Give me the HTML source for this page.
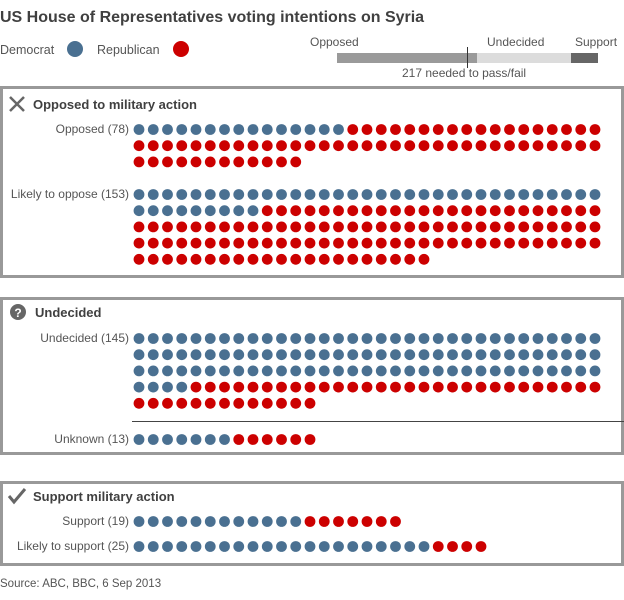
<!DOCTYPE html>
<html><head><meta charset="utf-8"><style>
body{margin:0;background:#fff;width:624px;height:600px;overflow:hidden}
svg{display:block;font-family:"Liberation Sans",sans-serif}
</style></head><body>
<svg id="s" width="624" height="600" xmlns="http://www.w3.org/2000/svg">
<text x="0" y="22" font-size="16" font-weight="bold" fill="#404040">US House of Representatives voting intentions on Syria</text>
<text x="0" y="54" font-size="12.5" fill="#555">Democrat</text>
<circle cx="75" cy="49" r="8" fill="#4a7091"/>
<text x="97" y="54" font-size="12.5" fill="#555">Republican</text>
<circle cx="181" cy="49" r="8" fill="#cc0000"/>
<text x="310" y="46" font-size="12" fill="#555">Opposed</text>
<text x="487" y="46" font-size="12" fill="#555">Undecided</text>
<text x="575" y="46" font-size="12" fill="#555">Support</text>
<rect x="337" y="53" width="140" height="10" fill="#9a9a9a"/>
<rect x="477" y="53" width="94" height="10" fill="#dcdcdc"/>
<rect x="571" y="53" width="27" height="10" fill="#666"/>
<line x1="467.5" y1="47" x2="467.5" y2="68" stroke="#333" stroke-width="1"/>
<text x="402" y="77" font-size="12" fill="#555">217 needed to pass/fail</text>

<rect x="1.5" y="87.5" width="621" height="189" fill="none" stroke="#999" stroke-width="3"/>
<rect x="1.5" y="298.5" width="621" height="155" fill="none" stroke="#999" stroke-width="3"/>
<rect x="1.5" y="482.5" width="621" height="82" fill="none" stroke="#999" stroke-width="3"/>

<path d="M10 97 L24 111 M24 97 L10 111" stroke="#666" stroke-width="2.5"/>
<text x="33" y="109" font-size="13" font-weight="bold" fill="#404040">Opposed to military action</text>
<circle cx="18" cy="312" r="8" fill="#666"/>
<text x="18" y="317" font-size="12" font-weight="bold" fill="#fff" text-anchor="middle">?</text>
<text x="35" y="317" font-size="13" font-weight="bold" fill="#404040">Undecided</text>
<path d="M9 496 L14 502 L25 489" stroke="#666" stroke-width="3" fill="none"/>
<text x="33" y="501" font-size="13" font-weight="bold" fill="#404040">Support military action</text>

<g font-size="12" fill="#555" text-anchor="end">
<text x="129" y="133">Opposed (78)</text>
<text x="129" y="198">Likely to oppose (153)</text>
<text x="129" y="342">Undecided (145)</text>
<text x="129" y="443">Unknown (13)</text>
<text x="129" y="525">Support (19)</text>
<text x="129" y="550">Likely to support (25)</text>
</g>
<line x1="132" y1="421.5" x2="624" y2="421.5" stroke="#444" stroke-width="1"/>
<text x="0" y="587" font-size="11.5" fill="#555">Source: ABC, BBC, 6 Sep 2013</text>
<g id="d"></g>
</svg>
<script>
var g=document.getElementById('d'),ns="http://www.w3.org/2000/svg";
function grp(y0,blue,total){
 for(var i=0;i<total;i++){
  var r=Math.floor(i/33),c=i%33;
  var e=document.createElementNS(ns,'circle');
  e.setAttribute('cx',139+c*14.25);e.setAttribute('cy',y0+r*16.2);
  e.setAttribute('r',5.4);e.setAttribute('fill',i<blue?'#4a7091':'#cc0000');
  g.appendChild(e);
 }
}
grp(129.5,15,78);grp(194.5,42,153);grp(338.5,103,145);grp(439.5,7,13);grp(521.5,12,19);grp(546.5,21,25);
</script>
</body></html>
